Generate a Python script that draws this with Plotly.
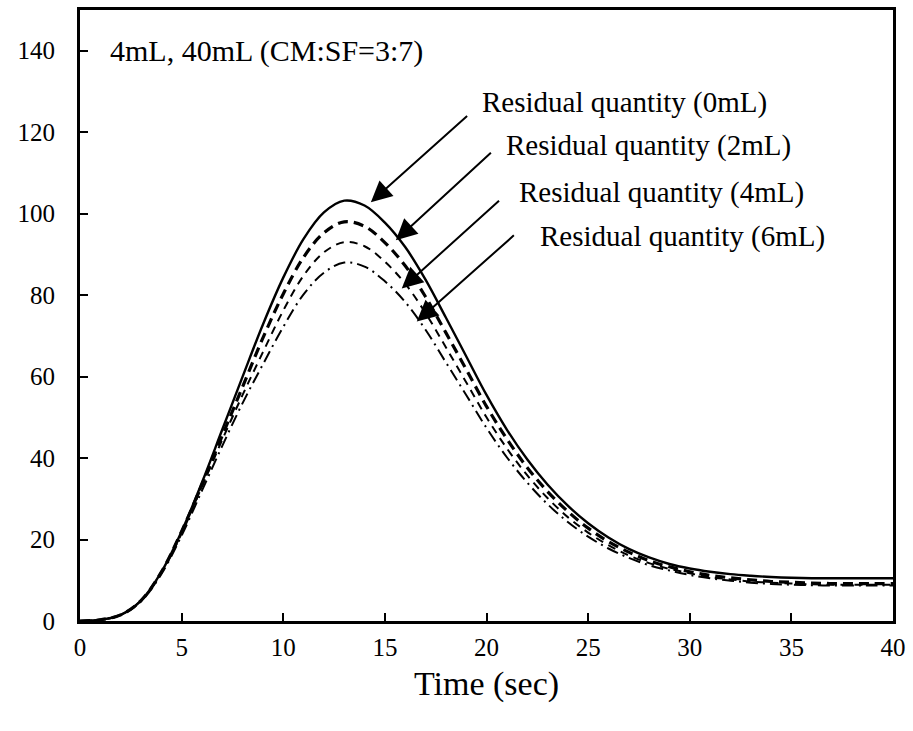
import plotly.graph_objects as go

time_sec = list(range(0, 41))

res_0mL = [0, 0.3, 1.5, 5, 12, 22, 34, 47, 60, 72.8, 84.3, 93.8, 100.3, 103.2, 102, 97.8, 91.8, 83.8, 74.5, 65,
           55.5, 47, 39.7, 33.5, 28.3, 24, 20.5, 17.7, 15.6, 14, 12.9, 12.1, 11.5, 11.1, 10.8, 10.6,
           10.5, 10.5, 10.5, 10.5, 10.5]
res_2mL = [0, 0.3, 1.5, 5, 12, 22, 33.5, 45.5, 57.5, 69.5, 80.3, 89.3, 95.3, 98, 96.9, 92.9, 87.2, 79.6, 70.8, 61.8,
           52.7, 44.7, 37.7, 31.8, 26.9, 22.8, 19.5, 16.9, 14.8, 13.3, 12.1, 11.2, 10.6, 10.1, 9.7, 9.5,
           9.3, 9.2, 9.2, 9.2, 9.2]
res_4mL = [0, 0.3, 1.5, 5, 11.8, 21.5, 33, 44.5, 55.5, 66, 76.2, 84.8, 90.5, 93, 92, 88.2, 82.8, 75.6, 67.2, 58.6,
           50, 42.4, 35.8, 30.2, 25.5, 21.7, 18.6, 16.1, 14.2, 12.8, 11.7, 10.8, 10.2, 9.7, 9.4, 9.2,
           9, 8.9, 8.9, 8.9, 8.9]
res_6mL = [0, 0.3, 1.4, 4.8, 11.5, 21, 32, 43, 53.5, 63, 72.2, 80.2, 85.5, 88, 87, 83.4, 78.3, 71.5, 63.5, 55.5,
           47.4, 40.2, 34, 28.7, 24.3, 20.7, 17.8, 15.5, 13.7, 12.4, 11.3, 10.5, 9.9, 9.4, 9.1, 8.9,
           8.8, 8.7, 8.7, 8.7, 8.7]

series_names = ["Residual quantity (0mL)", "Residual quantity (2mL)",
                "Residual quantity (4mL)", "Residual quantity (6mL)"]
series_values = [res_0mL, res_2mL, res_4mL, res_6mL]
x_ticks = [0, 5, 10, 15, 20, 25, 30, 35, 40]
y_ticks = [0, 20, 40, 60, 80, 100, 120, 140]
chart_title = "4mL, 40mL (CM:SF=3:7)"
x_title = "Time (sec)"

# label anchor points and arrow tail / head points (data units)
label_xy = [(19.7, 127.3), (20.85, 116.8), (21.5, 105.1), (22.55, 94.5)]
arrow_tail = [(19.12, 124.3), (20.29, 115.3), (20.69, 103.5), (21.42, 95.0)]
arrow_head = [(14.31, 102.8), (15.54, 93.5), (15.83, 81.6), (16.57, 73.5)]

styles = [dict(dash="solid", width=2.4),
          dict(dash="10px,6px", width=3.2),
          dict(dash="8px,6px", width=2),
          dict(dash="12px,5px,2px,5px", width=2)]

FONT = "Liberation Serif, Times New Roman, serif"

fig = go.Figure()
for name, vals, st in zip(series_names, series_values, styles):
    fig.add_trace(go.Scatter(x=time_sec, y=vals, mode="lines", name=name,
                             line=dict(color="black", shape="spline", smoothing=1.0, **st)))

for name, (tx, ty), (hx, hy), (lx, ly) in zip(series_names, arrow_tail, arrow_head, label_xy):
    fig.add_annotation(x=hx, y=hy, ax=tx, ay=ty, xref="x", yref="y", axref="x", ayref="y",
                       text="", showarrow=True, arrowhead=2, arrowsize=2.1, arrowwidth=2,
                       arrowcolor="black")
    fig.add_annotation(x=lx, y=ly, xref="x", yref="y", text=name, showarrow=False,
                       xanchor="left", yanchor="middle",
                       font=dict(family=FONT, size=29, color="black"))

fig.add_annotation(x=1.4, y=140, xref="x", yref="y", text=chart_title, showarrow=False,
                   xanchor="left", yanchor="middle",
                   font=dict(family=FONT, size=30, color="black"))

axis_common = dict(showline=True, linecolor="black", linewidth=3, mirror=True,
                   ticks="inside", ticklen=8, tickwidth=2, tickcolor="black",
                   showgrid=False, zeroline=False,
                   tickfont=dict(family=FONT, size=25, color="black"))

fig.update_xaxes(range=[0, 40], tickvals=x_ticks, ticktext=[str(v) for v in x_ticks],
                 title=dict(text=x_title, font=dict(family=FONT, size=34, color="black"),
                            standoff=12), ticklabelstandoff=2, **axis_common)
fig.update_yaxes(range=[0, 150], tickvals=y_ticks, ticktext=[str(v) for v in y_ticks],
                 ticklabelstandoff=17, **axis_common)

fig.update_layout(width=913, height=731, showlegend=False,
                  plot_bgcolor="white", paper_bgcolor="white",
                  margin=dict(l=80, r=17, t=7, b=110))

fig.write_html("out.html", config={"displayModeBar": False},
               post_script="document.body.style.margin='0';")
